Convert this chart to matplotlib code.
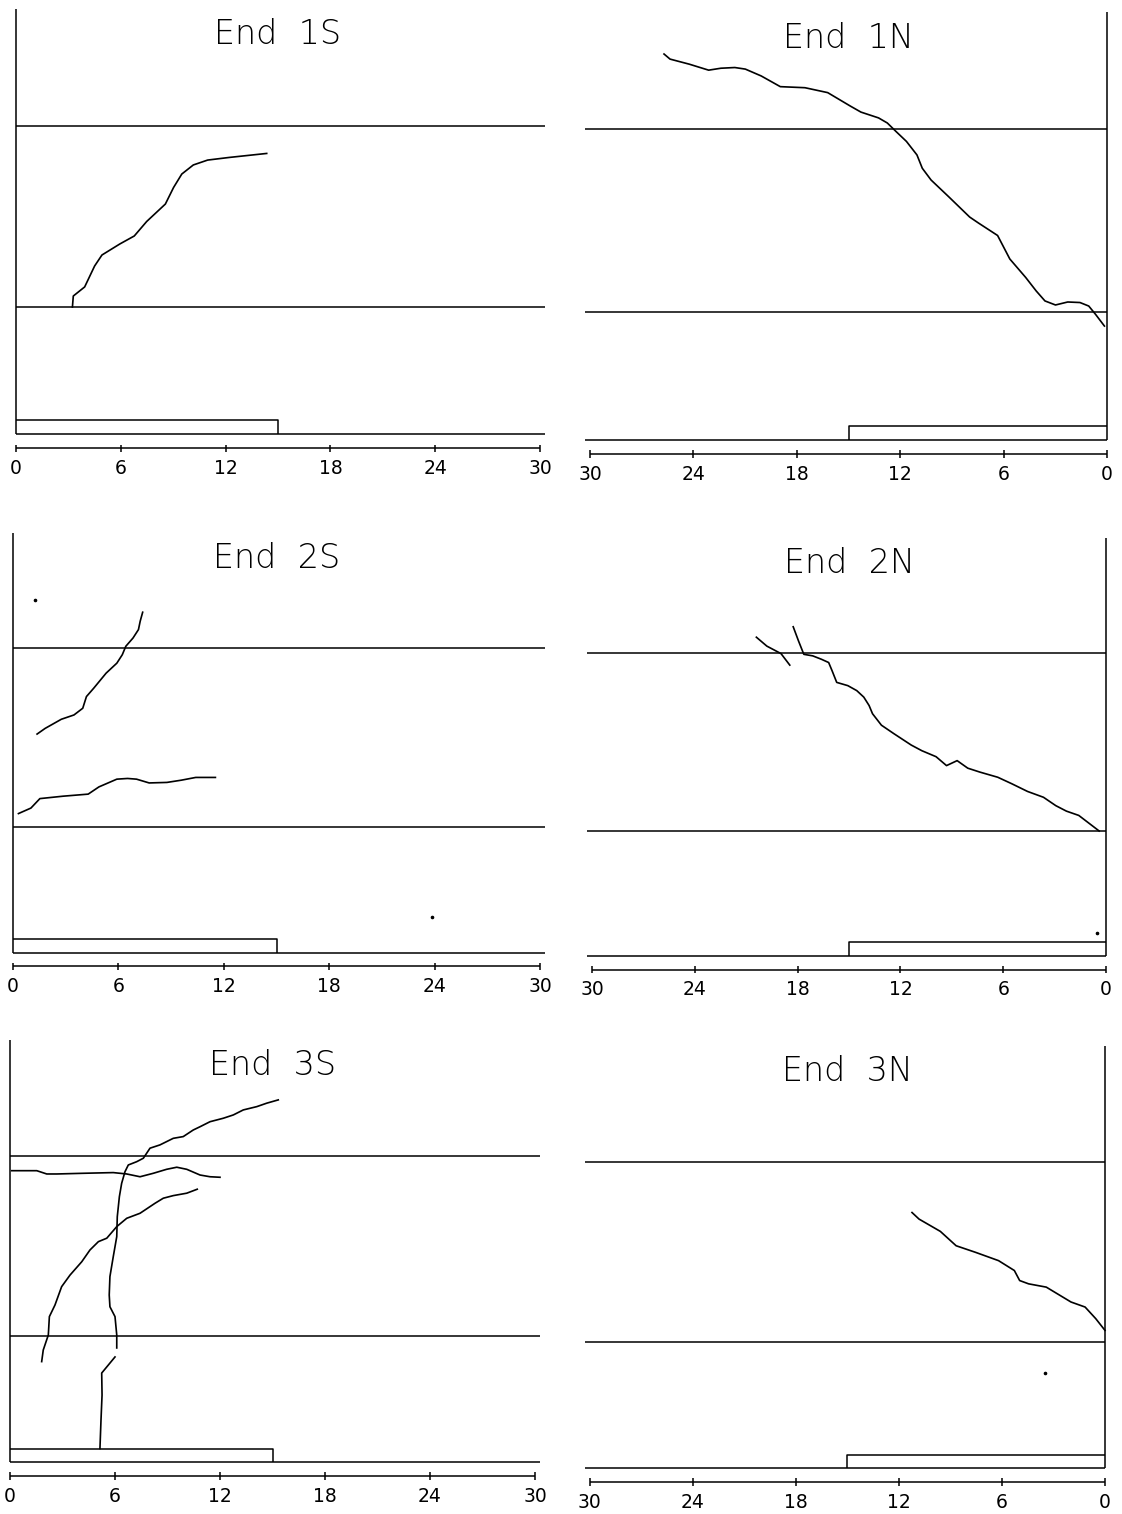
import matplotlib
matplotlib.use("Agg")
import matplotlib.pyplot as plt

# ---------------------------------------------------------------
# Girder end crack maps (dimensions in inches)
# x: distance from the end face, y: height above the soffit
# ---------------------------------------------------------------
ENDS = ["1S", "1N", "2S", "2N", "3S", "3N"]
DIST_TICKS = [0, 6, 12, 18, 24, 30]
TOP_FLANGE_Y = 17.7      # web / top flange junction
BOTTOM_FLANGE_Y = 7.3    # web / bottom flange junction
END_FACE_TOP = 24.4
PAD_LENGTH = 15.0
PAD_THICK = 0.8
ELEV_LENGTH = 30.3

# crack traces, End 1S
end1S_a_x = [3.23, 3.28, 3.93, 4.50, 4.92, 5.94, 6.77, 7.48, 8.55, 9.02, 9.49, 10.15, 10.97, 12.20, 14.35]
end1S_a_y = [7.30, 7.93, 8.45, 9.65, 10.28, 10.91, 11.37, 12.20, 13.20, 14.15, 14.92, 15.44, 15.72, 15.87, 16.10]

# crack traces, End 1N
end1N_a_x = [25.71, 25.36, 24.24, 23.12, 22.41, 21.60, 20.99, 20.07, 18.96, 17.53, 16.21, 14.89, 14.28,
             13.26, 12.75, 12.25, 11.64, 11.03, 10.72, 10.21, 9.19, 7.97, 7.46, 6.35, 5.64, 4.72, 4.11,
             3.60, 2.99, 2.28, 1.57, 1.06, 0.66, 0.15]
end1N_a_y = [22.00, 21.71, 21.42, 21.08, 21.19, 21.23, 21.14, 20.75, 20.14, 20.08, 19.80, 19.03, 18.69,
             18.36, 18.07, 17.59, 17.02, 16.25, 15.49, 14.82, 13.87, 12.71, 12.37, 11.66, 10.32, 9.27, 8.50,
             7.93, 7.70, 7.87, 7.84, 7.64, 7.16, 6.50]

# crack traces, End 2S
end2S_a_x = [1.37, 1.83, 2.75, 3.47, 3.97, 4.18, 4.59, 5.30, 5.91, 6.22, 6.42, 6.83, 7.14, 7.24, 7.38]
end2S_a_y = [12.70, 13.03, 13.56, 13.81, 14.20, 14.88, 15.36, 16.24, 16.82, 17.31, 17.80, 18.28, 18.77, 19.26, 19.78]
end2S_b_x = [0.31, 1.02, 1.53, 2.85, 4.28, 4.89, 5.91, 6.52, 7.03, 7.75, 8.76, 9.58, 10.40, 11.52]
end2S_b_y = [8.08, 8.40, 8.95, 9.09, 9.21, 9.63, 10.08, 10.12, 10.08, 9.86, 9.89, 10.02, 10.18, 10.18]
end2S_spot_x = [1.25, 23.85]
end2S_spot_y = [20.49, 2.07]

# crack traces, End 2N
end2N_a_x = [18.26, 17.95, 17.64, 17.12, 16.61, 16.19, 15.99, 15.72, 15.07, 14.55, 14.14, 13.83, 13.63,
             13.11, 12.39, 11.37, 10.75, 9.92, 9.31, 8.69, 8.07, 7.36, 6.32, 5.50, 4.58, 3.65, 2.93,
             2.31, 1.59, 1.08, 0.40]
end2N_a_y = [19.23, 18.40, 17.62, 17.53, 17.33, 17.14, 16.66, 15.98, 15.79, 15.50, 15.12, 14.63, 14.15,
             13.48, 12.99, 12.32, 11.99, 11.64, 11.12, 11.41, 10.97, 10.74, 10.44, 10.06, 9.61, 9.27, 8.78,
             8.46, 8.21, 7.82, 7.30]
end2N_b_x = [20.41, 19.80, 18.97, 18.46]
end2N_b_y = [18.62, 18.10, 17.66, 16.99]
end2N_spot_x = [0.53]
end2N_spot_y = [1.34]

# crack traces, End 3S
end3S_a_x = [1.81, 1.90, 2.19, 2.25, 2.57, 2.95, 3.43, 4.10, 4.57, 5.05, 5.53, 6.10, 6.67, 7.43, 8.29,
             8.76, 9.33, 10.10, 10.70]
end3S_a_y = [5.82, 6.49, 7.36, 8.42, 9.09, 10.15, 10.82, 11.59, 12.27, 12.75, 12.95, 13.62, 14.10, 14.39,
             14.97, 15.26, 15.41, 15.55, 15.78]
end3S_b_x = [5.14, 5.20, 5.26, 5.24, 6.00]
end3S_b_y = [0.80, 2.45, 3.89, 5.16, 6.09]
end3S_c_x = [6.10, 6.10, 6.00, 5.71, 5.67, 5.71, 5.90, 6.10, 6.13, 6.25, 6.38, 6.57, 6.76, 7.24, 7.62,
             7.81, 8.00, 8.57, 9.33, 9.90, 10.47, 10.86, 11.43, 12.19, 12.76, 13.33, 14.10, 14.67, 15.33]
end3S_c_y = [6.61, 7.36, 8.42, 8.99, 9.67, 10.73, 11.88, 13.04, 14.19, 15.35, 16.12, 16.79, 17.18, 17.37,
             17.57, 17.86, 18.15, 18.34, 18.72, 18.82, 19.20, 19.39, 19.68, 19.88, 20.07, 20.36, 20.55,
             20.75, 20.94]
end3S_d_x = [0.10, 0.57, 1.53, 2.10, 2.67, 4.19, 5.90, 6.67, 7.43, 8.19, 8.95, 9.53, 10.10, 10.86, 11.43, 12.00]
end3S_d_y = [16.85, 16.85, 16.85, 16.66, 16.66, 16.70, 16.74, 16.66, 16.50, 16.70, 16.93, 17.05, 16.93,
             16.60, 16.50, 16.47]

# crack traces, End 3N
end3N_a_x = [11.24, 10.83, 9.59, 8.67, 7.54, 6.20, 5.28, 4.97, 4.45, 3.42, 1.98, 1.16, 0.54, 0.0]
end3N_a_y = [14.78, 14.40, 13.69, 12.86, 12.48, 12.00, 11.43, 10.85, 10.66, 10.47, 9.61, 9.32, 8.65, 7.97]
end3N_spot_x = [3.49]
end3N_spot_y = [5.51]

CRACKS = {
    "1S": [(end1S_a_x, end1S_a_y)],
    "1N": [(end1N_a_x, end1N_a_y)],
    "2S": [(end2S_a_x, end2S_a_y), (end2S_b_x, end2S_b_y)],
    "2N": [(end2N_a_x, end2N_a_y), (end2N_b_x, end2N_b_y)],
    "3S": [(end3S_a_x, end3S_a_y), (end3S_b_x, end3S_b_y), (end3S_c_x, end3S_c_y), (end3S_d_x, end3S_d_y)],
    "3N": [(end3N_a_x, end3N_a_y)],
}
SPOTS = {
    "2S": (end2S_spot_x, end2S_spot_y),
    "2N": (end2N_spot_x, end2N_spot_y),
    "3N": (end3N_spot_x, end3N_spot_y),
}

# ---------------------------------------------------------------
# Sheet layout: pixel frame of each elevation on the page
# (x0 = end face, sx/sy = pixels per inch, ymid = bottom flange line)
# ---------------------------------------------------------------
W_PX, H_PX = 1122, 1514
FRAMES = {
    "1S": dict(x0=16,   sx=17.47, ymid=307,  sy=17.45, north=False),
    "1N": dict(x0=1107, sx=17.23, ymid=312,  sy=17.55, north=True),
    "2S": dict(x0=13,   sx=17.57, ymid=827,  sy=17.21, north=False),
    "2N": dict(x0=1106, sx=17.13, ymid=831,  sy=17.12, north=True),
    "3S": dict(x0=10,   sx=17.50, ymid=1336, sy=17.31, north=False),
    "3N": dict(x0=1105, sx=17.17, ymid=1342, sy=17.31, north=True),
}
XLO, XHI = -1.0, 31.5
YLO, YHI = -2.6, 24.8

LW = 1.1
INK = "black"

fig = plt.figure(figsize=(W_PX / 100, H_PX / 100), dpi=100)
fig.patch.set_facecolor("white")


def make_axes(frame):
    x0, sx, ymid, sy = frame["x0"], frame["sx"], frame["ymid"], frame["sy"]
    if frame["north"]:
        left, right = x0 - sx * XHI, x0 - sx * XLO
    else:
        left, right = x0 + sx * XLO, x0 + sx * XHI
    top = ymid - (YHI - BOTTOM_FLANGE_Y) * sy
    bottom = ymid - (YLO - BOTTOM_FLANGE_Y) * sy
    ax = fig.add_axes([left / W_PX, 1 - bottom / H_PX, (right - left) / W_PX, (bottom - top) / H_PX])
    ax.set_xlim((XHI, XLO) if frame["north"] else (XLO, XHI))
    ax.set_ylim(YLO, YHI)
    ax.axis("off")
    return ax


for end in ENDS:
    ax = make_axes(FRAMES[end])
    kw = dict(color=INK, lw=LW, solid_capstyle="butt", clip_on=False)

    # end face
    ax.plot([0, 0], [0, END_FACE_TOP], **kw)
    # flange junction lines and soffit
    for yl in (TOP_FLANGE_Y, BOTTOM_FLANGE_Y, 0.0):
        ax.plot([0, ELEV_LENGTH], [yl, yl], **kw)
    # bearing pad
    ax.plot([0, PAD_LENGTH, PAD_LENGTH], [PAD_THICK, PAD_THICK, 0], **kw)

    # distance scale
    ys = -0.8
    ax.plot([DIST_TICKS[0], DIST_TICKS[-1]], [ys, ys], **kw)
    for t in DIST_TICKS:
        ax.plot([t, t], [ys - 0.22, ys + 0.22], **kw)
        ax.text(t, ys - 1.15, str(t), ha="center", va="center", fontsize=13.5,
                family="DejaVu Sans", color=INK)

    # title
    ax.text(15.0, 22.9, f"End  {end}", ha="center", va="center", fontsize=24,
            family="DejaVu Sans", weight="ultralight", color=INK)

    # cracks
    for cx, cy in CRACKS[end]:
        ax.plot(cx, cy, color=INK, lw=LW * 1.1, solid_joinstyle="round", clip_on=False)
    if end in SPOTS:
        px_, py_ = SPOTS[end]
        ax.plot(px_, py_, "o", ms=1.6, color=INK, clip_on=False)

fig.savefig("out.png", dpi=100, facecolor="white")
